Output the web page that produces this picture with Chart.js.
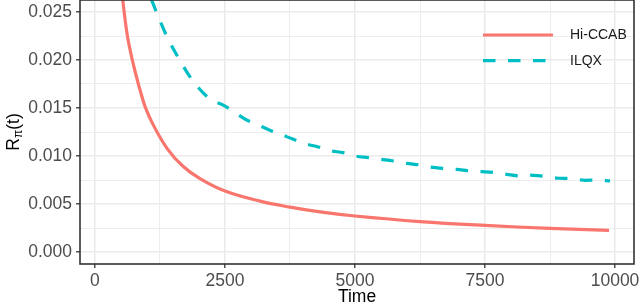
<!DOCTYPE html>
<html>
<head>
<meta charset="utf-8">
<script src="https://cdn.jsdelivr.net/npm/chart.js@4.4.1/dist/chart.umd.min.js"></script>
<style>
  html, body { margin: 0; padding: 0; background: #ffffff; }
  #c { display: block; }
</style>
</head>
<body>
<canvas id="c" width="640" height="307"></canvas>
<script>
// ---- data ----
const seriesNames = ["Hi-CCAB", "ILQX"];

const hiccabTime  = [480, 533, 654, 923, 1096, 1385, 1692, 2019, 2500, 3173, 3750, 4327, 5000, 6250, 7500, 8750, 9885];
const hiccabValue = [0.0291, 0.0263, 0.0216, 0.0158, 0.0135, 0.0108, 0.00893, 0.00765, 0.00635, 0.00530, 0.00468, 0.00418, 0.00375, 0.00317, 0.00277, 0.00246, 0.00225];

const ilqxTime  = [1085, 1110, 1198, 1379, 1602, 1860, 2179, 2500, 2692, 2917, 3140, 3352, 3571, 3813, 4038, 4294, 4519, 4775, 5000, 5256, 5481, 5737, 5994, 6250, 6442, 6731, 6955, 7212, 7436, 7692, 7917, 8173, 8302, 8429, 8686, 8910, 9167, 9423, 9648, 9904];
const ilqxValue = [0.0263, 0.02598, 0.02476, 0.0225, 0.02025, 0.0180, 0.01608, 0.0152, 0.01452, 0.01375, 0.01323, 0.01271, 0.01226, 0.01174, 0.01129, 0.01094, 0.01055, 0.01035, 0.0100, 0.00983, 0.00966, 0.00948, 0.00924, 0.00906, 0.00885, 0.00869, 0.00861, 0.00844, 0.00837, 0.00827, 0.00809, 0.00792, 0.00802, 0.00799, 0.00785, 0.00768, 0.00765, 0.00747, 0.0075, 0.0074];

const xTickLabels = [0, 2500, 5000, 7500, 10000];
const yTickLabels = [0.000, 0.005, 0.010, 0.015, 0.020, 0.025];

// ---- helpers ----
function withMinor(major) {
  const out = [];
  for (let i = 0; i < major.length; i++) {
    out.push(major[i]);
    if (i < major.length - 1) out.push((major[i] + major[i + 1]) / 2);
  }
  return out;
}
const xAll = withMinor(xTickLabels);
const yAll = withMinor(yTickLabels);
const isMajor = (list, v) => list.some(m => Math.abs(m - v) < 1e-9 * Math.max(1, Math.abs(m)));

const FONT = "'Liberation Sans', Arial, Helvetica, sans-serif";
const RED = '#F8766D';
const TEAL = '#00BFC4';

const toPoints = (xs, ys) => xs.map((x, i) => ({ x: x, y: ys[i] }));

// custom legend (inside panel, transparent, like ggplot)
const insideLegend = {
  id: 'insideLegend',
  afterDatasetsDraw(chart) {
    const ctx = chart.ctx;
    const items = chart.data.datasets;
    const x0 = 483, x1 = 553, tx = 570;
    const ys = [35, 60.7];
    ctx.save();
    items.forEach((ds, i) => {
      ctx.beginPath();
      ctx.strokeStyle = ds.borderColor;
      ctx.lineWidth = ds.borderWidth;
      ctx.setLineDash(ds.borderDash || []);
      ctx.lineCap = 'butt';
      ctx.moveTo(x0, ys[i]);
      ctx.lineTo(x1, ys[i]);
      ctx.stroke();
      ctx.setLineDash([]);
      ctx.fillStyle = '#1a1a1a';
      ctx.font = '14px ' + FONT;
      ctx.textAlign = 'left';
      ctx.textBaseline = 'middle';
      ctx.fillText(ds.label, tx, ys[i] + 0.5);
    });
    ctx.restore();
  }
};

// panel border + y axis title with subscript
const panelDecor = {
  id: 'panelDecor',
  afterDraw(chart) {
    const { ctx, chartArea: a } = chart;
    ctx.save();
    ctx.strokeStyle = '#333333';
    ctx.lineWidth = 1.6;
    ctx.strokeRect(a.left, a.top, a.right - a.left, a.bottom - a.top);

    // y title: R_pi(t), rotated
    const big = '17.5px ' + FONT, small = '12px ' + FONT;
    ctx.font = big; const wR = ctx.measureText('R').width; const wT = ctx.measureText('(t)').width;
    ctx.font = small; const wP = ctx.measureText('\u03C0').width;
    const total = wR + wP + wT;
    ctx.translate(13, (a.top + a.bottom) / 2);
    ctx.rotate(-Math.PI / 2);
    ctx.fillStyle = '#000000';
    ctx.textBaseline = 'alphabetic';
    ctx.textAlign = 'left';
    let x = -total / 2;
    const base = 6;
    ctx.font = big; ctx.fillText('R', x, base); x += wR;
    ctx.font = small; ctx.fillText('\u03C0', x, base + 3); x += wP;
    ctx.font = big; ctx.fillText('(t)', x, base);
    ctx.restore();
  }
};

const gridCommon = (list) => ({
  color: '#EBEBEB',
  lineWidth: (c) => (c.tick && isMajor(list, c.tick.value)) ? 1.6 : 0.9,
  tickColor: (c) => (c.tick && isMajor(list, c.tick.value)) ? '#333333' : 'rgba(0,0,0,0)',
  tickLength: 4,
  tickWidth: 1.3,
  drawTicks: true,
  drawOnChartArea: true
});

new Chart(document.getElementById('c'), {
  type: 'line',
  data: {
    datasets: [
      {
        label: seriesNames[0],
        data: toPoints(hiccabTime, hiccabValue),
        borderColor: RED,
        backgroundColor: RED,
        borderWidth: 3.2,
        pointRadius: 0,
        fill: false,
        tension: 0.4
      },
      {
        label: seriesNames[1],
        data: toPoints(ilqxTime, ilqxValue),
        borderColor: TEAL,
        backgroundColor: TEAL,
        borderWidth: 3.2,
        borderDash: [12.5, 12.5],
        pointRadius: 0,
        fill: false,
        cubicInterpolationMode: 'monotone'
      }
    ]
  },
  options: {
    responsive: false,
    devicePixelRatio: 1,
    animation: false,
    events: [],
    layout: { padding: { left: 0, right: 6, top: 0, bottom: 0 } },
    plugins: {
      legend: { display: false },
      tooltip: { enabled: false },
      title: { display: false }
    },
    scales: {
      x: {
        type: 'linear',
        min: -288,
        max: 10365,
        afterBuildTicks: (s) => { s.ticks = xAll.map(v => ({ value: v })); },
        afterFit: (s) => { s.height = 43; s.paddingLeft = 0; s.paddingRight = 0; },
        ticks: {
          autoSkip: false,
          maxRotation: 0,
          padding: 3,
          color: '#4D4D4D',
          font: { family: FONT, size: 17.5 },
          callback: (v) => isMajor(xTickLabels, v) ? String(Math.round(v)) : ''
        },
        grid: gridCommon(xTickLabels),
        border: { display: false },
        title: {
          display: true,
          text: 'Time',
          color: '#000000',
          font: { family: FONT, size: 17.5 },
          padding: { top: 0, bottom: -1 }
        }
      },
      y: {
        type: 'linear',
        min: -0.00125,
        max: 0.02625,
        afterBuildTicks: (s) => { s.ticks = yAll.map(v => ({ value: v })); },
        afterFit: (s) => { s.width = 80; s.paddingTop = 0; s.paddingBottom = 0; },
        ticks: {
          autoSkip: false,
          padding: 4,
          color: '#4D4D4D',
          font: { family: FONT, size: 17.5 },
          callback: (v) => isMajor(yTickLabels, v) ? v.toFixed(3) : ''
        },
        grid: gridCommon(yTickLabels),
        border: { display: false },
        title: { display: false }
      }
    }
  },
  plugins: [insideLegend, panelDecor]
});
</script>
</body>
</html>
